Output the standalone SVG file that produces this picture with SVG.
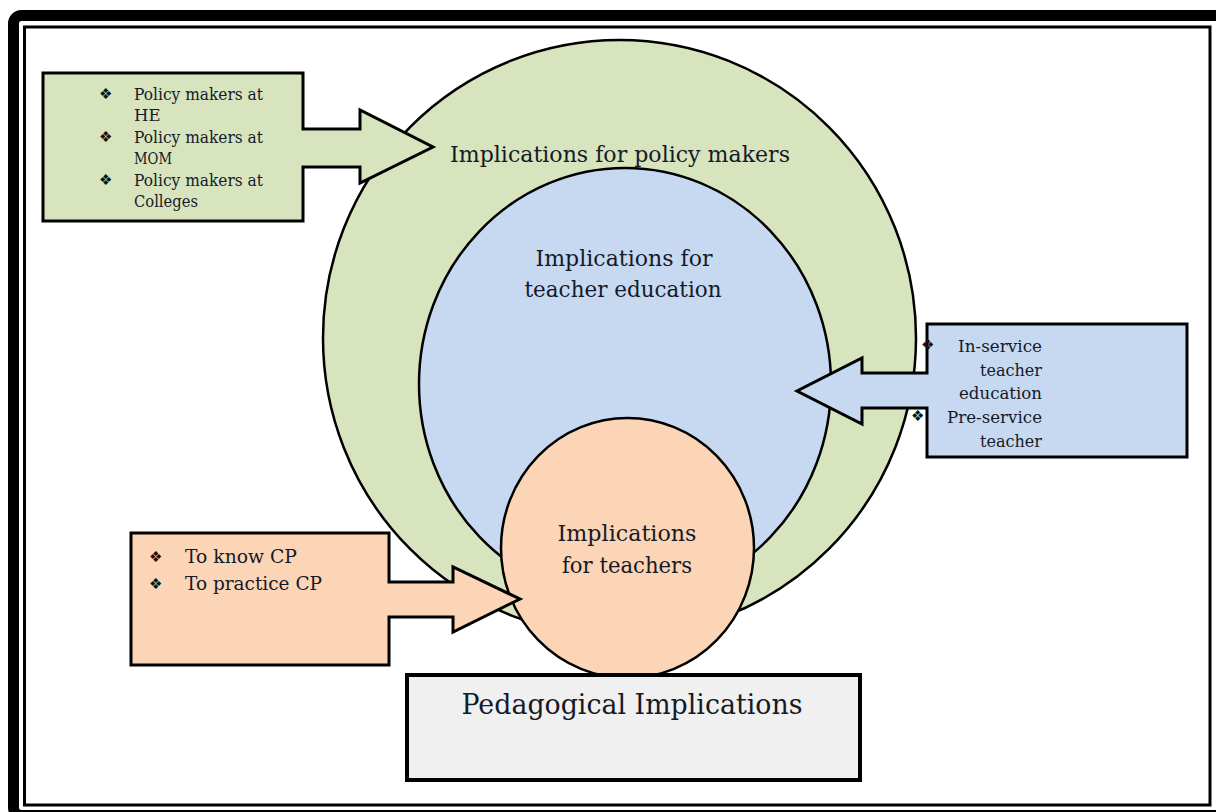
<svg xmlns="http://www.w3.org/2000/svg" width="1216" height="812" viewBox="0 0 1216 812">
<style>
.t{font-family:"DejaVu Serif","Liberation Serif",serif;fill:#151a28}
.b{font-family:"DejaVu Sans",sans-serif;font-size:15px;fill:#111}
.c{stroke:#000;stroke-width:2.5}
.k{stroke:#000;stroke-width:3;stroke-linejoin:miter}
</style>
<rect width="1216" height="812" fill="#fff"/>
<g id="frame" fill="none">
<rect x="13.5" y="15.5" width="1230" height="800" rx="8" stroke="#000" stroke-width="11"/>
<rect x="24.5" y="27" width="1185.5" height="778" stroke="#000" stroke-width="3"/>
</g>
<g id="policy-circle">
<ellipse cx="619.5" cy="338" rx="296.5" ry="298" fill="#d7e4bd" class="c"/>
<text class="t" x="620" y="162" font-size="22" text-anchor="middle" textLength="340" lengthAdjust="spacingAndGlyphs">Implications for policy makers</text>
</g>
<g id="teacher-education-circle">
<ellipse cx="625" cy="384" rx="206" ry="216" fill="#c6d9f1" class="c"/>
<text class="t" x="624" y="266" font-size="22" text-anchor="middle" textLength="177" lengthAdjust="spacingAndGlyphs">Implications for</text>
<text class="t" x="623" y="297" font-size="22" text-anchor="middle" textLength="197" lengthAdjust="spacingAndGlyphs">teacher education</text>
</g>
<g id="teachers-circle">
<ellipse cx="627.5" cy="548" rx="126.5" ry="130" fill="#fbd5b5" class="c"/>
<text class="t" x="627" y="541" font-size="22" text-anchor="middle" textLength="139" lengthAdjust="spacingAndGlyphs">Implications</text>
<text class="t" x="627" y="573" font-size="22" text-anchor="middle" textLength="130" lengthAdjust="spacingAndGlyphs">for teachers</text>
</g>
<g id="connectors">
<path id="policy-callout" class="k" fill="#d7e4bd" d="M43,73 H303 V129 H360 V110 L433,147 L360,183 V167 H303 V221 H43 Z"/>
<path id="inservice-callout" class="k" fill="#c6d9f1" d="M927,324 H1187 V457 H927 V408 H862 V424 L797,391 L862,358 V373 H927 Z"/>
<path id="teachers-callout" class="k" fill="#fbd5b5" d="M131,533 H389 V582 H453 V567 L520,599 L453,632 V617 H389 V665 H131 Z"/>
</g>
<g id="policy-list">
<text class="b" x="99" y="99">❖</text>
<text class="t" x="134" y="100" font-size="16.5" textLength="129" lengthAdjust="spacingAndGlyphs">Policy makers at</text>
<text class="t" x="134" y="121" font-size="16.5">HE</text>
<text class="b" x="99" y="142">❖</text>
<text class="t" x="134" y="143" font-size="16.5" textLength="129" lengthAdjust="spacingAndGlyphs">Policy makers at</text>
<text class="t" x="134" y="164" font-size="16.5" textLength="38" lengthAdjust="spacingAndGlyphs">MOM</text>
<text class="b" x="99" y="185">❖</text>
<text class="t" x="134" y="186" font-size="16.5" textLength="129" lengthAdjust="spacingAndGlyphs">Policy makers at</text>
<text class="t" x="134" y="207" font-size="16.5" textLength="64" lengthAdjust="spacingAndGlyphs">Colleges</text>
</g>
<g id="inservice-list">
<text class="b" x="921" y="350">❖</text>
<text class="t" x="1042" y="352" font-size="16.5" text-anchor="end" textLength="84" lengthAdjust="spacingAndGlyphs">In-service</text>
<text class="t" x="1042" y="376" font-size="16.5" text-anchor="end" textLength="62" lengthAdjust="spacingAndGlyphs">teacher</text>
<text class="t" x="1042" y="399" font-size="16.5" text-anchor="end" textLength="83" lengthAdjust="spacingAndGlyphs">education</text>
<text class="b" x="911" y="421">❖</text>
<text class="t" x="1042" y="423" font-size="16.5" text-anchor="end" textLength="95" lengthAdjust="spacingAndGlyphs">Pre-service</text>
<text class="t" x="1042" y="447" font-size="16.5" text-anchor="end" textLength="62" lengthAdjust="spacingAndGlyphs">teacher</text>
</g>
<g id="teachers-list">
<text class="b" x="149" y="562" font-size="17">❖</text>
<text class="t" x="185" y="563" font-size="18.5" textLength="112" lengthAdjust="spacingAndGlyphs">To know CP</text>
<text class="b" x="149" y="589" font-size="17">❖</text>
<text class="t" x="185" y="590" font-size="18.5" textLength="137" lengthAdjust="spacingAndGlyphs">To practice CP</text>
</g>
<g id="pedagogical-implications">
<rect x="407" y="675" width="453" height="105" fill="#f0f0f0" stroke="#000" stroke-width="4"/>
<text class="t" x="632" y="714" font-size="28" text-anchor="middle" textLength="341" lengthAdjust="spacingAndGlyphs">Pedagogical Implications</text>
</g>
</svg>
